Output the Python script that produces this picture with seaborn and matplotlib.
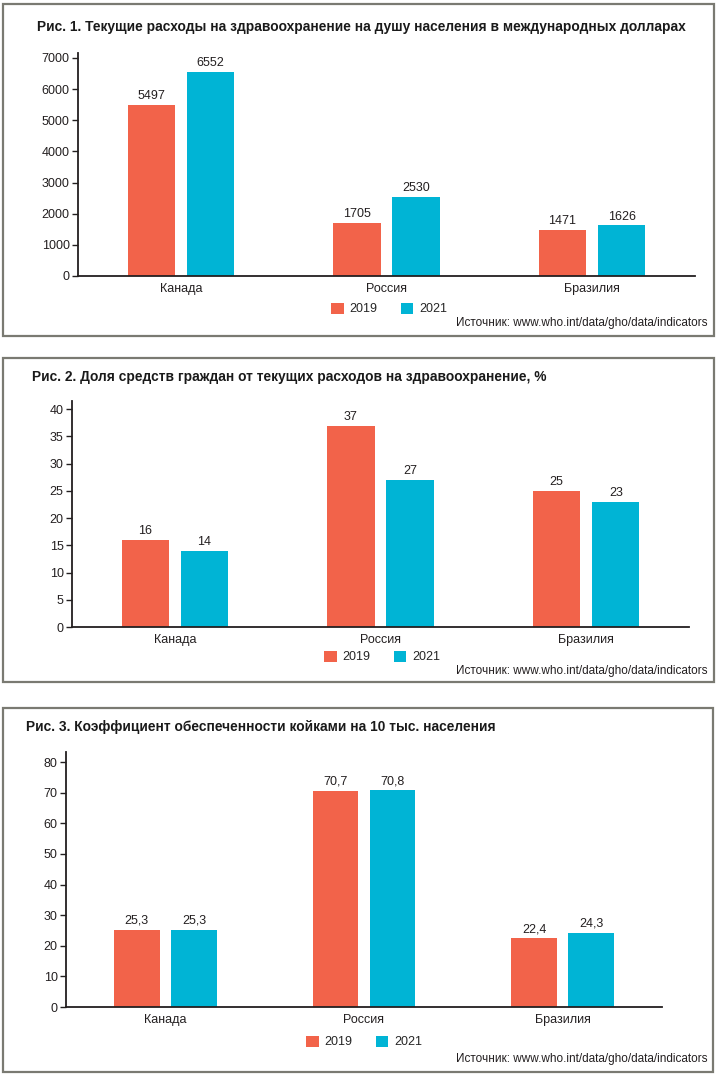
import matplotlib
matplotlib.use("Agg")
import matplotlib.pyplot as plt
from matplotlib.patches import Rectangle
import seaborn as sns
import pandas as pd

# данные (ВОЗ)
countries = ['Канада', 'Россия', 'Бразилия']
years = ['2019', '2021']
spend_2019 = [5497, 1705, 1471]
spend_2021 = [6552, 2530, 1626]
share_2019 = [16, 37, 25]
share_2021 = [14, 27, 23]
beds_2019 = [25.3, 70.7, 22.4]
beds_2021 = [25.3, 70.8, 24.3]

titles = [
    'Рис. 1. Текущие расходы на здравоохранение на душу населения в международных долларах',
    'Рис. 2. Доля средств граждан от текущих расходов на здравоохранение, %',
    'Рис. 3. Коэффициент обеспеченности койками на 10 тыс. населения',
]
source = 'Источник: www.who.int/data/gho/data/indicators'
colors = ['#F2634A', '#00B4D5']

sns.set_style('white')
plt.rcParams['font.family'] = ['Liberation Sans', 'DejaVu Sans']

W, H = 720, 1079
fig = plt.figure(figsize=(W / 100, H / 100), dpi=100)


def fx(px):
    return px / W


def fy(py):
    return 1 - py / H


def make_df(v19, v21):
    return pd.DataFrame({
        'country': countries * 2,
        'year': [years[0]] * 3 + [years[1]] * 3,
        'value': list(v19) + list(v21),
    })


def fmt_num(v):
    if isinstance(v, int):
        return str(v)
    return f'{v:.1f}'.replace('.', ',')


# положения в пикселях: ось (left, right, top, bottom), рамка (x0, x1, y0, y1)
panels = [
    dict(v19=spend_2019, v21=spend_2021, ax=(78, 695, 53, 276), ymax=7160,
         yticks=range(0, 7001, 1000), box=(3, 714, 4, 336), title=(37, 27),
         legend=(389, 309), src=(708, 323)),
    dict(v19=share_2019, v21=share_2021, ax=(72, 689, 401, 627), ymax=41.5,
         yticks=range(0, 41, 5), box=(3, 714, 358, 682), title=(32, 377),
         legend=(382, 657), src=(708, 671)),
    dict(v19=beds_2019, v21=beds_2021, ax=(66, 662, 752, 1007), ymax=83.3,
         yticks=range(0, 81, 10), box=(3, 713, 708, 1072), title=(26, 727),
         legend=(364, 1042), src=(707, 1059)),
]

for i, p in enumerate(panels):
    x0, x1, y0, y1 = p['box']
    fig.patches.append(Rectangle((fx(x0), fy(y1)), fx(x1 - x0), (y1 - y0) / H,
                                 transform=fig.transFigure, fill=False,
                                 edgecolor='#7a7a72', linewidth=1.6))

    l, r, t, b = p['ax']
    ax = fig.add_axes([fx(l), fy(b), fx(r - l), (b - t) / H])
    df = make_df(p['v19'], p['v21'])
    sns.barplot(data=df, x='country', y='value', hue='year', palette=colors,
                width=0.576, gap=0.2, saturation=1, linewidth=0, ax=ax)

    for cont, vals in zip(ax.containers, [p['v19'], p['v21']]):
        ax.bar_label(cont, labels=[fmt_num(v) for v in vals], padding=2,
                     fontsize=9, color='#231f20')

    ax.set_xlim(-0.5, 2.5)
    ax.set_ylim(0, p['ymax'])
    ax.set_yticks(list(p['yticks']))
    ax.set_xlabel('')
    ax.set_ylabel('')
    sns.despine(ax=ax)
    for s in ['left', 'bottom']:
        ax.spines[s].set_linewidth(1.3)
        ax.spines[s].set_color('#231f20')
    ax.tick_params(axis='y', left=True, length=4, width=1, pad=2,
                   labelsize=9, colors='#231f20')
    ax.tick_params(axis='x', bottom=False, length=0, pad=5, labelsize=9,
                   colors='#231f20')

    sns.move_legend(ax, 'center', bbox_to_anchor=(fx(p['legend'][0]), fy(p['legend'][1])),
                    bbox_transform=fig.transFigure, ncol=2, frameon=False, title=None,
                    fontsize=9, handlelength=1.0, handleheight=1.0,
                    handletextpad=0.45, columnspacing=1.9)

    fig.text(fx(p['title'][0]), fy(p['title'][1]), titles[i], fontsize=9.9,
             fontweight='bold', ha='left', va='center', color='#1a1a1a')
    fig.text(fx(p['src'][0]), fy(p['src'][1]), source, fontsize=8.5,
             ha='right', va='center', color='#231f20')

fig.savefig('out.png', dpi=100, facecolor='white')
